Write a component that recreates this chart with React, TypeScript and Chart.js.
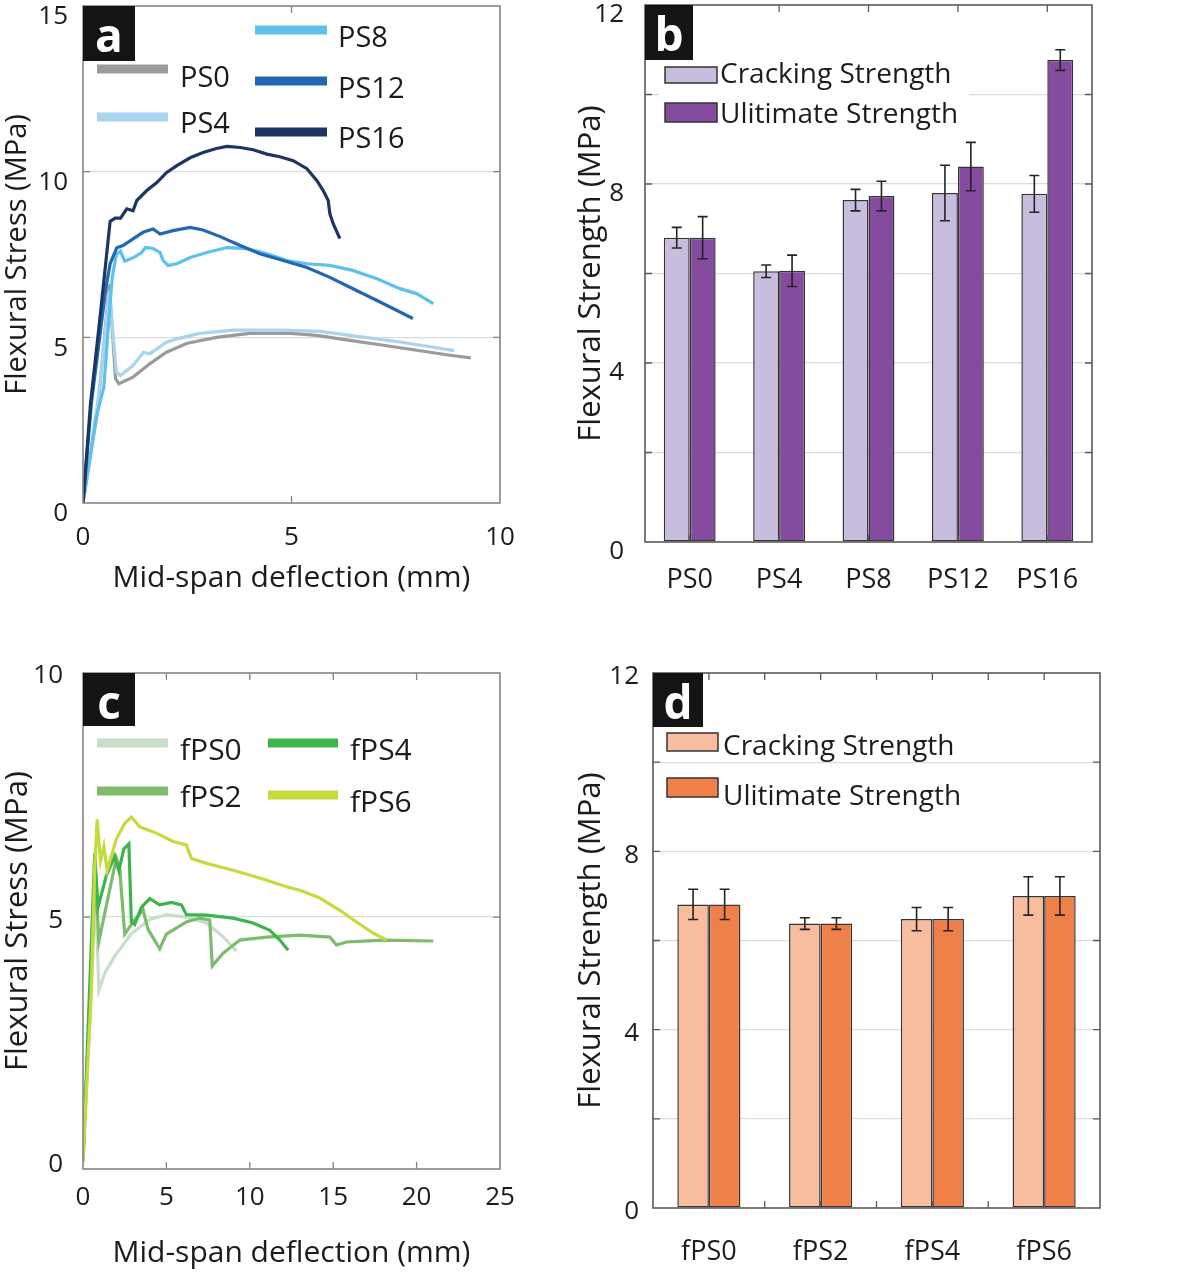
import React, { useEffect, useRef } from 'react';
import { Chart, registerables } from 'chart.js';

Chart.register(...registerables);

type Pt = [number, number];

// ---------------- Panel a: flexural stress vs deflection ----------------
const seriesNamesA = ['PS0', 'PS4', 'PS8', 'PS12', 'PS16'];
const PS0: Pt[] = [[0, 0], [0.34, 2.7], [0.5, 4.8], [0.63, 6.6], [0.78, 3.75], [0.86, 3.6], [1.2, 3.8], [1.6, 4.2], [2.0, 4.55], [2.5, 4.82], [3.2, 5.0], [4.0, 5.12], [5.0, 5.12], [5.6, 5.06], [6.4, 4.91], [7.2, 4.76], [8.0, 4.61], [8.8, 4.46], [9.3, 4.38]];
const PS4: Pt[] = [[0, 0], [0.2, 1.6], [0.4, 3.5], [0.55, 5.4], [0.63, 6.4], [0.8, 3.95], [0.9, 3.85], [1.2, 4.15], [1.45, 4.55], [1.6, 4.5], [2.0, 4.85], [2.3, 4.97], [2.8, 5.12], [3.6, 5.22], [4.8, 5.22], [5.7, 5.18], [6.4, 5.06], [7.6, 4.86], [8.4, 4.7], [8.9, 4.6]];
const PS8: Pt[] = [[0, 0], [0.3, 2.5], [0.5, 3.5], [0.6, 5.2], [0.7, 6.8], [0.8, 7.5], [0.9, 7.6], [1.0, 7.3], [1.2, 7.4], [1.4, 7.55], [1.5, 7.71], [1.68, 7.68], [1.85, 7.56], [1.92, 7.32], [2.04, 7.17], [2.25, 7.22], [2.57, 7.41], [2.97, 7.56], [3.45, 7.71], [3.93, 7.68], [4.41, 7.52], [4.89, 7.32], [5.37, 7.22], [5.92, 7.17], [6.47, 7.02], [7.05, 6.77], [7.6, 6.47], [8.0, 6.32], [8.4, 6.02]];
const PS12: Pt[] = [[0, 0], [0.2, 3.0], [0.4, 5.0], [0.55, 6.5], [0.65, 7.22], [0.81, 7.7], [0.96, 7.77], [1.2, 7.97], [1.44, 8.17], [1.68, 8.27], [1.85, 8.12], [2.16, 8.22], [2.57, 8.32], [2.88, 8.24], [3.29, 8.04], [3.77, 7.77], [4.24, 7.52], [4.8, 7.32], [5.37, 7.11], [5.92, 6.81], [6.4, 6.51], [7.05, 6.11], [7.53, 5.81], [7.91, 5.57]];
const PS16: Pt[] = [[0, 0], [0.18, 3.0], [0.4, 5.5], [0.55, 7.3], [0.65, 8.5], [0.77, 8.6], [0.9, 8.6], [1.05, 8.88], [1.2, 8.82], [1.29, 9.13], [1.53, 9.43], [1.77, 9.67], [2.0, 9.97], [2.25, 10.18], [2.57, 10.42], [2.88, 10.58], [3.2, 10.7], [3.45, 10.76], [3.77, 10.73], [4.08, 10.66], [4.41, 10.53], [4.72, 10.45], [5.04, 10.33], [5.37, 10.09], [5.61, 9.73], [5.76, 9.43], [5.88, 9.13], [5.92, 8.73], [6.0, 8.43], [6.16, 7.98]];
const curvesA: Pt[][] = [PS0, PS4, PS8, PS12, PS16];
const colorsA = ['#9b9b9b', '#a9d4ef', '#5cc1ec', '#2167b1', '#1e3563'];
const xTicksA = [0, 5, 10];
const yTicksA = [0, 5, 10, 15];

// ---------------- Panel b: strengths of PS series ----------------
const categoriesB = ['PS0', 'PS4', 'PS8', 'PS12', 'PS16'];
const crackingB = [6.8, 6.05, 7.64, 7.8, 7.78];
const crackingErrB = [0.23, 0.14, 0.24, 0.62, 0.41];
const ultimateB = [6.8, 6.06, 7.73, 8.39, 10.77];
const ultimateErrB = [0.47, 0.35, 0.33, 0.54, 0.23];
const yTicksB = [0, 2, 4, 6, 8, 10, 12];

// ---------------- Panel c: flexural stress vs deflection (fPS) ----------------
const seriesNamesC = ['fPS0', 'fPS2', 'fPS4', 'fPS6'];
const fPS0: Pt[] = [[0, 0], [0.5, 3.5], [0.75, 5.6], [0.95, 3.5], [1.3, 3.85], [1.9, 4.2], [2.9, 4.66], [4.0, 4.95], [5.0, 5.05], [6.2, 5.0], [7.4, 4.88], [8.4, 4.6], [9.2, 4.3]];
const fPS2: Pt[] = [[0, 0], [0.5, 4.0], [0.75, 5.9], [0.95, 4.5], [1.5, 5.4], [2.0, 6.2], [2.2, 6.0], [2.5, 4.65], [3.0, 4.9], [3.6, 5.15], [3.9, 4.75], [4.6, 4.35], [5.0, 4.65], [6.2, 4.9], [7.0, 4.98], [7.6, 4.94], [7.75, 4.0], [8.4, 4.26], [9.4, 4.53], [11.0, 4.59], [13.0, 4.63], [14.8, 4.59], [15.2, 4.43], [15.8, 4.49], [18.0, 4.53], [21.0, 4.51]];
const fPS4: Pt[] = [[0, 0], [0.45, 4.0], [0.7, 6.3], [0.9, 5.2], [1.4, 5.85], [1.9, 6.25], [2.15, 5.95], [2.45, 6.4], [2.75, 6.5], [2.9, 4.9], [3.1, 4.85], [3.5, 5.2], [4.0, 5.38], [4.6, 5.25], [5.3, 5.3], [5.9, 5.25], [6.2, 5.05], [7.4, 5.04], [9.0, 4.98], [10.2, 4.88], [11.2, 4.73], [11.8, 4.53], [12.3, 4.32]];
const fPS6: Pt[] = [[0, 0], [0.5, 3.5], [0.7, 6.0], [0.85, 7.0], [1.05, 6.15], [1.25, 6.45], [1.45, 5.95], [1.7, 6.25], [2.0, 6.6], [2.5, 6.92], [2.9, 7.05], [3.4, 6.85], [4.4, 6.72], [5.4, 6.55], [6.2, 6.48], [6.5, 6.2], [7.4, 6.1], [9.0, 5.96], [10.6, 5.8], [12.2, 5.62], [13.0, 5.55], [14.2, 5.39], [15.4, 5.14], [16.4, 4.9], [17.4, 4.67], [18.2, 4.53]];
const curvesC: Pt[][] = [fPS0, fPS2, fPS4, fPS6];
const colorsC = ['#c8dec8', '#7cbc6d', '#3db54a', '#c6da3e'];
const xTicksC = [0, 5, 10, 15, 20, 25];
const yTicksC = [0, 5, 10];

// ---------------- Panel d: strengths of fPS series ----------------
const categoriesD = ['fPS0', 'fPS2', 'fPS4', 'fPS6'];
const crackingD = [6.81, 6.38, 6.48, 7.0];
const crackingErrD = [0.34, 0.13, 0.26, 0.43];
const ultimateD = [6.81, 6.38, 6.48, 7.0];
const ultimateErrD = [0.34, 0.13, 0.26, 0.43];
const yTicksD = [0, 2, 4, 6, 8, 10, 12];

const legendLabels = ['Cracking Strength', 'Ulitimate Strength'];

// ---------------- helpers ----------------
const FAMILY = "'Open Sans', 'Noto Sans', sans-serif";
const INK = '#1c1c1c';
const GRID = '#dcdcdc';

function fixBox(size: number) {
  return (s: any) => {
    if (s.isHorizontal()) s.height = size;
    else s.width = size;
    s.paddingLeft = 0;
    s.paddingRight = 0;
    s.paddingTop = 0;
    s.paddingBottom = 0;
  };
}

function setTicks(values: number[]) {
  return (s: any) => {
    s.ticks = values.map((v) => ({ value: v }));
  };
}

type LineItem = { sx: number; sy: number; sw: number; tx: number; ty: number };
type BoxItem = { bx: number; by: number; bw: number; bh: number; tx: number; ty: number };

interface Decor {
  letter: string;
  lw: number;
  lh: number;
  frame: string;
  xInner: number[];
  yInner: number[];
  lineLegend?: { items: LineItem[]; font: number };
  boxLegend?: { items: BoxItem[]; font: number; bg?: [number, number, number, number] };
  errors?: number[][];
}

function decorPlugin(d: Decor) {
  return {
    id: 'panelDecor',
    afterDatasetsDraw(chart: any) {
      if (!d.errors) return;
      const { ctx } = chart;
      const ys = chart.scales.y;
      ctx.save();
      ctx.strokeStyle = '#242424';
      ctx.lineWidth = 1.6;
      chart.data.datasets.forEach((ds: any, i: number) => {
        const meta = chart.getDatasetMeta(i);
        meta.data.forEach((bar: any, j: number) => {
          const v = ds.data[j];
          const e = d.errors![i][j];
          const x = bar.x;
          const y1 = ys.getPixelForValue(v + e);
          const y2 = ys.getPixelForValue(v - e);
          ctx.beginPath();
          ctx.moveTo(x, y1);
          ctx.lineTo(x, y2);
          ctx.moveTo(x - 5, y1);
          ctx.lineTo(x + 5, y1);
          ctx.moveTo(x - 5, y2);
          ctx.lineTo(x + 5, y2);
          ctx.stroke();
        });
      });
      ctx.restore();
    },
    afterDraw(chart: any) {
      const { ctx, chartArea: a } = chart;
      const xs = chart.scales.x;
      const ys = chart.scales.y;
      ctx.save();
      // inner ticks
      ctx.strokeStyle = d.frame;
      ctx.lineWidth = 1.3;
      ctx.beginPath();
      d.xInner.forEach((v) => {
        const px = xs.getPixelForValue(v);
        ctx.moveTo(px, a.top);
        ctx.lineTo(px, a.top + 7);
        ctx.moveTo(px, a.bottom);
        ctx.lineTo(px, a.bottom - 7);
      });
      d.yInner.forEach((v) => {
        const py = ys.getPixelForValue(v);
        ctx.moveTo(a.left, py);
        ctx.lineTo(a.left + 7, py);
        ctx.moveTo(a.right, py);
        ctx.lineTo(a.right - 7, py);
      });
      ctx.stroke();
      // frame
      ctx.lineWidth = 1.6;
      ctx.strokeRect(a.left, a.top, a.right - a.left, a.bottom - a.top);

      // line legend
      if (d.lineLegend) {
        ctx.font = `${d.lineLegend.font}px ${FAMILY}`;
        ctx.textAlign = 'left';
        ctx.textBaseline = 'alphabetic';
        d.lineLegend.items.forEach((it, i) => {
          const ds = chart.data.datasets[i];
          ctx.strokeStyle = ds.borderColor;
          ctx.lineWidth = 9;
          ctx.lineCap = 'butt';
          ctx.beginPath();
          ctx.moveTo(a.left + it.sx, a.top + it.sy);
          ctx.lineTo(a.left + it.sx + it.sw, a.top + it.sy);
          ctx.stroke();
          ctx.fillStyle = INK;
          ctx.fillText(ds.label, a.left + it.tx, a.top + it.ty);
        });
      }
      // box legend
      if (d.boxLegend) {
        if (d.boxLegend.bg) {
          const [bx, by, bw, bh] = d.boxLegend.bg;
          ctx.fillStyle = '#ffffff';
          ctx.fillRect(a.left + bx, a.top + by, bw, bh);
        }
        ctx.font = `${d.boxLegend.font}px ${FAMILY}`;
        ctx.textAlign = 'left';
        ctx.textBaseline = 'alphabetic';
        d.boxLegend.items.forEach((it, i) => {
          const ds = chart.data.datasets[i];
          ctx.fillStyle = ds.backgroundColor;
          ctx.fillRect(a.left + it.bx, a.top + it.by, it.bw, it.bh);
          ctx.strokeStyle = '#333333';
          ctx.lineWidth = 1.5;
          ctx.strokeRect(a.left + it.bx, a.top + it.by, it.bw, it.bh);
          ctx.fillStyle = INK;
          ctx.fillText(ds.label, a.left + it.tx, a.top + it.ty);
        });
      }
      // panel letter
      ctx.fillStyle = '#141414';
      ctx.fillRect(a.left, a.top, d.lw, d.lh);
      ctx.fillStyle = '#ffffff';
      ctx.font = `bold 46px ${FAMILY}`;
      ctx.textAlign = 'center';
      ctx.textBaseline = 'alphabetic';
      ctx.fillText(d.letter, a.left + d.lw / 2, a.top + 46);
      ctx.restore();
    },
  };
}

interface LineOpts {
  names: string[];
  curves: Pt[][];
  colors: string[];
  xMin: number;
  xMax: number;
  yMin: number;
  yMax: number;
  xTicks: number[];
  yTicks: number[];
  pad: { top: number; right: number };
  yWidth: number;
  xHeight: number;
  yTickPad: number;
  yLabelShift: number;
  xTickPad: number;
  yTitleSize: number;
  yTitlePad: number;
  decor: Decor;
}

function lineConfig(o: LineOpts): any {
  const hidden = (v: number) => v === 0 || v === o.yMax;
  return {
    type: 'line',
    data: {
      datasets: o.curves.map((c, i) => ({
        label: o.names[i],
        data: c.map(([x, y]) => ({ x, y })),
        borderColor: o.colors[i],
        backgroundColor: o.colors[i],
        borderWidth: 3.2,
        pointRadius: 0,
        tension: 0,
        fill: false,
        order: o.curves.length - i,
      })),
    },
    options: {
      responsive: false,
      animation: false,
      devicePixelRatio: 1,
      layout: { autoPadding: false, padding: { left: 0, top: o.pad.top, right: o.pad.right, bottom: 0 } },
      plugins: { legend: { display: false }, tooltip: { enabled: false } },
      events: [],
      scales: {
        x: {
          type: 'linear',
          min: o.xMin,
          max: o.xMax,
          afterBuildTicks: setTicks(o.xTicks),
          afterFit: fixBox(o.xHeight),
          grid: { display: false, drawTicks: false },
          border: { display: false },
          ticks: { color: INK, font: { family: FAMILY, size: 26 }, padding: o.xTickPad, maxRotation: 0 },
          title: {
            display: true,
            text: 'Mid-span deflection (mm)',
            color: INK,
            font: { family: FAMILY, size: 30 },
            padding: { top: 0, bottom: 4 },
          },
        },
        y: {
          type: 'linear',
          min: o.yMin,
          max: o.yMax,
          afterBuildTicks: setTicks(o.yTicks),
          afterFit: fixBox(o.yWidth),
          grid: {
            drawTicks: false,
            color: (ctx: any) => (ctx.tick && hidden(ctx.tick.value) ? 'rgba(0,0,0,0)' : GRID),
            lineWidth: 1.2,
          },
          border: { display: false },
          ticks: { color: INK, font: { family: FAMILY, size: 26 }, padding: o.yTickPad, labelOffset: o.yLabelShift },
          title: {
            display: true,
            text: 'Flexural Stress (MPa)',
            color: INK,
            font: { family: FAMILY, size: o.yTitleSize },
            padding: { top: o.yTitlePad, bottom: 0 },
          },
        },
      },
    },
    plugins: [decorPlugin(o.decor)],
  };
}

interface BarOpts {
  categories: string[];
  cracking: number[];
  ultimate: number[];
  colors: [string, string];
  yTicks: number[];
  catPct: number;
  pad: { top: number; right: number };
  yWidth: number;
  xHeight: number;
  yTickPad: number;
  yLabelShift: number;
  xTickPad: number;
  yTitlePad: number;
  decor: Decor;
}

function barConfig(o: BarOpts): any {
  const common = {
    borderColor: '#363636',
    borderWidth: 1.5,
    borderSkipped: false,
    categoryPercentage: o.catPct,
    barPercentage: 1.0,
  };
  return {
    type: 'bar',
    data: {
      labels: o.categories,
      datasets: [
        { label: legendLabels[0], data: o.cracking, backgroundColor: o.colors[0], ...common },
        { label: legendLabels[1], data: o.ultimate, backgroundColor: o.colors[1], ...common },
      ],
    },
    options: {
      responsive: false,
      animation: false,
      devicePixelRatio: 1,
      layout: { autoPadding: false, padding: { left: 0, top: o.pad.top, right: o.pad.right, bottom: 0 } },
      plugins: { legend: { display: false }, tooltip: { enabled: false } },
      events: [],
      scales: {
        x: {
          type: 'category',
          afterFit: fixBox(o.xHeight),
          grid: { display: false, drawTicks: false },
          border: { display: false },
          ticks: { color: INK, font: { family: FAMILY, size: 27 }, padding: o.xTickPad, maxRotation: 0 },
        },
        y: {
          type: 'linear',
          min: 0,
          max: 12,
          afterBuildTicks: setTicks(o.yTicks),
          afterFit: fixBox(o.yWidth),
          grid: {
            drawTicks: false,
            color: (ctx: any) => (ctx.tick && (ctx.tick.value === 0 || ctx.tick.value === 12) ? 'rgba(0,0,0,0)' : GRID),
            lineWidth: 1.2,
          },
          border: { display: false },
          ticks: {
            color: INK,
            font: { family: FAMILY, size: 26 },
            padding: o.yTickPad,
            labelOffset: o.yLabelShift,
            callback: (v: any) => (Number(v) % 4 === 0 ? String(v) : ''),
          },
          title: {
            display: true,
            text: 'Flexural Strength (MPa)',
            color: INK,
            font: { family: FAMILY, size: 31 },
            padding: { top: o.yTitlePad, bottom: 0 },
          },
        },
      },
    },
    plugins: [decorPlugin(o.decor)],
  };
}

function ChartBox({ left, top, width, height, make }: { left: number; top: number; width: number; height: number; make: () => any }) {
  const ref = useRef<HTMLCanvasElement | null>(null);
  useEffect(() => {
    if (!ref.current) return;
    const chart = new Chart(ref.current, make());
    return () => chart.destroy();
  }, []);
  return (
    <canvas
      ref={ref}
      width={width}
      height={height}
      style={{ position: 'absolute', left, top, width, height, display: 'block' }}
    />
  );
}

const makeA = () =>
  lineConfig({
    names: seriesNamesA,
    curves: curvesA,
    colors: colorsA,
    xMin: 0,
    xMax: 10,
    yMin: 0,
    yMax: 15,
    xTicks: xTicksA,
    yTicks: yTicksA,
    pad: { top: 6, right: 70 },
    yWidth: 83,
    xHeight: 97,
    yTickPad: 15,
    yLabelShift: 11,
    xTickPad: 19,
    yTitleSize: 29,
    yTitlePad: 0,
    decor: {
      letter: 'a',
      lw: 52,
      lh: 55,
      frame: '#858585',
      xInner: [5],
      yInner: [5, 10],
      lineLegend: {
        font: 29,
        items: [
          { sx: 14, sy: 63, sw: 71, tx: 97, ty: 81 },
          { sx: 14, sy: 111, sw: 71, tx: 97, ty: 127 },
          { sx: 172, sy: 24, sw: 72, tx: 255, ty: 41 },
          { sx: 172, sy: 75, sw: 72, tx: 255, ty: 92 },
          { sx: 172, sy: 126, sw: 72, tx: 255, ty: 142 },
        ],
      },
    },
  });

const makeB = () =>
  barConfig({
    categories: categoriesB,
    cracking: crackingB,
    ultimate: ultimateB,
    colors: ['#c8bddf', '#854b9e'],
    yTicks: yTicksB,
    catPct: 0.58,
    pad: { top: 5, right: 86 },
    yWidth: 85,
    xHeight: 58,
    yTickPad: 21,
    yLabelShift: 10,
    xTickPad: 22,
    yTitlePad: 13,
    decor: {
      letter: 'b',
      lw: 48,
      lh: 55,
      frame: '#5a5a5a',
      xInner: [0, 1, 2, 3, 4],
      yInner: [2, 4, 6, 8, 10],
      errors: [crackingErrB, ultimateErrB],
      boxLegend: {
        font: 28,
        bg: [14, 56, 310, 70],
        items: [
          { bx: 20, by: 62, bw: 52, bh: 16, tx: 75, ty: 78 },
          { bx: 20, by: 98, bw: 52, bh: 19, tx: 75, ty: 118 },
        ],
      },
    },
  });

const makeC = () =>
  lineConfig({
    names: seriesNamesC,
    curves: curvesC,
    colors: colorsC,
    xMin: 0,
    xMax: 25,
    yMin: -0.16,
    yMax: 10,
    xTicks: xTicksC,
    yTicks: yTicksC,
    pad: { top: 33, right: 70 },
    yWidth: 83,
    xHeight: 106,
    yTickPad: 20,
    yLabelShift: 3,
    xTickPad: 13,
    yTitleSize: 31,
    yTitlePad: 0,
    decor: {
      letter: 'c',
      lw: 52,
      lh: 53,
      frame: '#858585',
      xInner: [5, 10, 15, 20],
      yInner: [5],
      lineLegend: {
        font: 30,
        items: [
          { sx: 14, sy: 70, sw: 71, tx: 97, ty: 87 },
          { sx: 14, sy: 118, sw: 71, tx: 97, ty: 134 },
          { sx: 185, sy: 70, sw: 70, tx: 267, ty: 87 },
          { sx: 185, sy: 122, sw: 70, tx: 267, ty: 139 },
        ],
      },
    },
  });

const makeD = () =>
  barConfig({
    categories: categoriesD,
    cracking: crackingD,
    ultimate: ultimateD,
    colors: ['#f8bc9e', '#f08049'],
    yTicks: yTicksD,
    catPct: 0.565,
    pad: { top: 33, right: 78 },
    yWidth: 93,
    xHeight: 67,
    yTickPad: 14,
    yLabelShift: 4,
    xTickPad: 28,
    yTitlePad: 13,
    decor: {
      letter: 'd',
      lw: 50,
      lh: 54,
      frame: '#5a5a5a',
      xInner: [0, 0.5, 1, 1.5, 2, 2.5, 3],
      yInner: [2, 4, 6, 8, 10],
      errors: [crackingErrD, ultimateErrD],
      boxLegend: {
        font: 28,
        items: [
          { bx: 14, by: 60, bw: 51, bh: 18, tx: 70, ty: 82 },
          { bx: 14, by: 105, bw: 51, bh: 19, tx: 70, ty: 132 },
        ],
      },
    },
  });

export default function App() {
  return (
    <div style={{ position: 'absolute', left: 0, top: 0, width: 1178, height: 1275, background: '#ffffff', overflow: 'hidden' }}>
      <ChartBox left={0} top={0} width={570} height={600} make={makeA} />
      <ChartBox left={560} top={0} width={618} height={600} make={makeB} />
      <ChartBox left={0} top={640} width={570} height={635} make={makeC} />
      <ChartBox left={560} top={640} width={618} height={635} make={makeD} />
    </div>
  );
}
